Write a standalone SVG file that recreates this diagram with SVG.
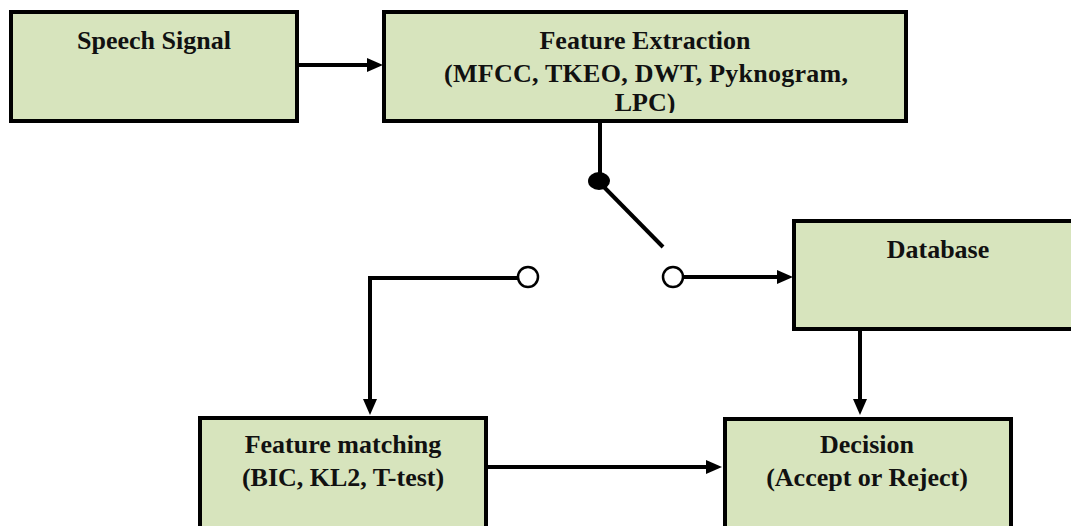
<svg xmlns="http://www.w3.org/2000/svg" width="1071" height="526" viewBox="0 0 1071 526">
  <style>
    .box { fill: #d7e4bd; stroke: #000; stroke-width: 4; }
    .fill { fill: #d7e4bd; }
    .frame { fill: none; stroke: #000; stroke-width: 4; }
    .edge { fill: none; stroke: #000; stroke-width: 4; }
    .lbl { font-family: "Liberation Serif", "Times New Roman", serif; font-weight: bold; font-size: 26px; fill: #111; text-anchor: middle; }
    .term { fill: #fff; stroke: #000; stroke-width: 2.5; }
  </style>
  <defs>
    <marker id="arrow" viewBox="0 0 16 14" markerWidth="16" markerHeight="14" markerUnits="userSpaceOnUse" refX="6" refY="7" orient="auto">
      <path d="M0,0 L16,7 L0,14 Z" fill="#000"/>
    </marker>
    <!-- text area of the extraction block; the last line runs into the bottom edge -->
    <clipPath id="fe-clip">
      <rect x="386" y="14" width="518" height="99"/>
    </clipPath>
  </defs>

  <rect width="1071" height="526" fill="#fff"/>

  <g id="speech-signal">
    <rect class="box" x="11" y="12" width="286" height="109"/>
    <text class="lbl" x="154" y="49">Speech Signal</text>
  </g>

  <g id="feature-extraction">
    <rect class="fill" x="384" y="12" width="522" height="109"/>
    <g clip-path="url(#fe-clip)">
      <text class="lbl" x="645" y="49">Feature Extraction</text>
      <text class="lbl" x="646" y="82" textLength="404" lengthAdjust="spacing">(MFCC, TKEO, DWT, Pyknogram,</text>
      <text class="lbl" x="645" y="111">LPC)</text>
    </g>
    <rect class="frame" x="384" y="12" width="522" height="109"/>
  </g>

  <g id="database">
    <rect class="box" x="794" y="221" width="300" height="108"/>
    <text class="lbl" x="938" y="258">Database</text>
  </g>

  <g id="feature-matching">
    <rect class="box" x="200" y="418" width="286" height="120"/>
    <text class="lbl" x="343" y="453">Feature matching</text>
    <text class="lbl" x="343" y="486">(BIC, KL2, T-test)</text>
  </g>

  <g id="decision">
    <rect class="box" x="725" y="419" width="286" height="120"/>
    <text class="lbl" x="867" y="453">Decision</text>
    <text class="lbl" x="867" y="486">(Accept or Reject)</text>
  </g>

  <g id="connectors">
    <path class="edge" d="M299,65 H373" marker-end="url(#arrow)"/>
    <path class="edge" d="M600,121 V181"/>
    <path class="edge" d="M600,183 L663,247"/>
    <ellipse cx="599" cy="181" rx="11" ry="9" fill="#000"/>
    <path class="edge" d="M683,277 H783" marker-end="url(#arrow)"/>
    <path class="edge" d="M518,278 H370 V405" marker-end="url(#arrow)"/>
    <path class="edge" d="M860,331 V405" marker-end="url(#arrow)"/>
    <path class="edge" d="M488,467 H712" marker-end="url(#arrow)"/>
    <circle class="term" cx="528" cy="277" r="10"/>
    <circle class="term" cx="673" cy="277" r="10"/>
  </g>
</svg>
